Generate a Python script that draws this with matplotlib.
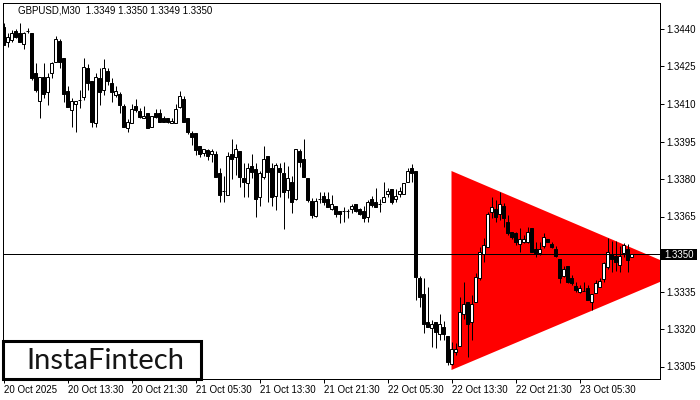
import matplotlib
matplotlib.use("Agg")
import matplotlib.pyplot as plt
from matplotlib.patches import Polygon, Rectangle

title = "GBPUSD,M30  1.3349 1.3350 1.3349 1.3350"

opens = [1.34409, 1.34349, 1.34356, 1.34392, 1.34383, 1.34339, 1.34392, 1.34383, 1.34223, 1.34112,
         1.34209, 1.34149, 1.34223, 1.34269, 1.34352, 1.34285, 1.34152, 1.34076, 1.34099, 1.34116,
         1.34129, 1.34245, 1.34192, 1.34023, 1.34205, 1.34156, 1.34232, 1.34185, 1.34136, 1.34140,
         1.34092, 1.34003, 1.34023, 1.34092, 1.34072, 1.34043, 1.34063, 1.34009, 1.34065, 1.34065,
         1.34043, 1.34043, 1.34023, 1.34023, 1.34089, 1.34119, 1.34043, 1.33985, 1.33985, 1.33932,
         1.33905, 1.33916, 1.33900, 1.33900, 1.33825, 1.33752, 1.33736, 1.33900, 1.33889, 1.33912,
         1.33805, 1.33783, 1.33852, 1.33839, 1.33729, 1.33809, 1.33892, 1.33843, 1.33732, 1.33843,
         1.33825, 1.33756, 1.33789, 1.33719, 1.33913, 1.33879, 1.33803, 1.33713, 1.33652, 1.33719,
         1.33732, 1.33719, 1.33679, 1.33692, 1.33673, 1.33672, 1.33673, 1.33679, 1.33700, 1.33679,
         1.33673, 1.33649, 1.33719, 1.33709, 1.33700, 1.33709, 1.33739, 1.33759, 1.33719, 1.33739,
         1.33739, 1.33789, 1.33843, 1.33832, 1.33403, 1.33339, 1.33229, 1.33203, 1.33229, 1.33180,
         1.33209, 1.33172, 1.33060, 1.33109, 1.33132, 1.33260, 1.33309, 1.33229, 1.33309, 1.33403,
         1.33500, 1.33529, 1.33669, 1.33679, 1.33660, 1.33692, 1.33629, 1.33589, 1.33583, 1.33540,
         1.33549, 1.33549, 1.33603, 1.33519, 1.33503, 1.33532, 1.33559, 1.33540, 1.33519, 1.33479,
         1.33412, 1.33452, 1.33403, 1.33372, 1.33349, 1.33353, 1.33363, 1.33309, 1.33345, 1.33369,
         1.33399, 1.33449, 1.33499, 1.33492, 1.33456, 1.33503, 1.33519, 1.33490]
highs = [1.34423, 1.34383, 1.34396, 1.34400, 1.34423, 1.34389, 1.34405, 1.34384, 1.34263, 1.34209,
         1.34263, 1.34223, 1.34269, 1.34373, 1.34360, 1.34285, 1.34172, 1.34123, 1.34112, 1.34156,
         1.34285, 1.34259, 1.34192, 1.34223, 1.34243, 1.34280, 1.34243, 1.34204, 1.34172, 1.34149,
         1.34100, 1.34039, 1.34100, 1.34119, 1.34083, 1.34092, 1.34063, 1.34052, 1.34079, 1.34079,
         1.34052, 1.34043, 1.34043, 1.34100, 1.34152, 1.34132, 1.34043, 1.33993, 1.33985, 1.33932,
         1.33919, 1.33919, 1.33919, 1.33912, 1.33843, 1.33812, 1.33909, 1.33959, 1.33940, 1.33912,
         1.33863, 1.33863, 1.33900, 1.33863, 1.33833, 1.33932, 1.33892, 1.33863, 1.33863, 1.33863,
         1.33869, 1.33852, 1.33812, 1.33919, 1.33919, 1.33959, 1.33803, 1.33723, 1.33723, 1.33749,
         1.33749, 1.33749, 1.33736, 1.33692, 1.33673, 1.33689, 1.33679, 1.33700, 1.33700, 1.33683,
         1.33692, 1.33716, 1.33732, 1.33763, 1.33719, 1.33788, 1.33763, 1.33759, 1.33759, 1.33769,
         1.33785, 1.33843, 1.33860, 1.33832, 1.33412, 1.33403, 1.33369, 1.33236, 1.33229, 1.33260,
         1.33233, 1.33172, 1.33149, 1.33143, 1.33329, 1.33389, 1.33309, 1.33336, 1.33423, 1.33529,
         1.33563, 1.33669, 1.33729, 1.33716, 1.33749, 1.33705, 1.33656, 1.33589, 1.33589, 1.33603,
         1.33576, 1.33609, 1.33603, 1.33549, 1.33549, 1.33585, 1.33559, 1.33549, 1.33532, 1.33479,
         1.33452, 1.33452, 1.33416, 1.33389, 1.33376, 1.33389, 1.33376, 1.33340, 1.33396, 1.33403,
         1.33469, 1.33563, 1.33553, 1.33553, 1.33532, 1.33543, 1.33540, 1.33500]
lows = [1.34336, 1.34329, 1.34349, 1.34363, 1.34349, 1.34320, 1.34383, 1.34196, 1.34149, 1.34044,
        1.34123, 1.34096, 1.34203, 1.34269, 1.34243, 1.34109, 1.34089, 1.34009, 1.33989, 1.34083,
        1.34116, 1.34156, 1.34009, 1.34009, 1.34096, 1.34136, 1.34176, 1.34109, 1.34129, 1.34063,
        1.34009, 1.33989, 1.34023, 1.34069, 1.34043, 1.34043, 1.34003, 1.34009, 1.34043, 1.34029,
        1.34029, 1.34023, 1.34023, 1.34023, 1.34083, 1.34029, 1.33980, 1.33936, 1.33896, 1.33889,
        1.33892, 1.33876, 1.33869, 1.33809, 1.33709, 1.33709, 1.33736, 1.33799, 1.33816, 1.33769,
        1.33729, 1.33729, 1.33803, 1.33649, 1.33692, 1.33799, 1.33709, 1.33692, 1.33676, 1.33729,
        1.33599, 1.33723, 1.33665, 1.33716, 1.33849, 1.33809, 1.33709, 1.33643, 1.33647, 1.33703,
        1.33696, 1.33689, 1.33676, 1.33649, 1.33623, 1.33629, 1.33643, 1.33663, 1.33668, 1.33656,
        1.33629, 1.33629, 1.33689, 1.33689, 1.33669, 1.33709, 1.33729, 1.33700, 1.33709, 1.33729,
        1.33739, 1.33789, 1.33789, 1.33316, 1.33289, 1.33183, 1.33209, 1.33129, 1.33123, 1.33156,
        1.33156, 1.33056, 1.33056, 1.33096, 1.33132, 1.33239, 1.33089, 1.33156, 1.33309, 1.33396,
        1.33469, 1.33529, 1.33643, 1.33629, 1.33636, 1.33609, 1.33576, 1.33559, 1.33536, 1.33509,
        1.33543, 1.33543, 1.33509, 1.33489, 1.33496, 1.33523, 1.33549, 1.33523, 1.33487, 1.33383,
        1.33409, 1.33383, 1.33376, 1.33349, 1.33345, 1.33353, 1.33316, 1.33276, 1.33345, 1.33369,
        1.33389, 1.33439, 1.33429, 1.33433, 1.33429, 1.33489, 1.33429, 1.33490]
closes = [1.34336, 1.34369, 1.34383, 1.34369, 1.34349, 1.34383, 1.34392, 1.34203, 1.34156, 1.34209,
          1.34139, 1.34209, 1.34263, 1.34360, 1.34269, 1.34139, 1.34089, 1.34112, 1.34112, 1.34116,
          1.34249, 1.34183, 1.34029, 1.34209, 1.34149, 1.34243, 1.34192, 1.34149, 1.34152, 1.34096,
          1.34009, 1.34029, 1.34079, 1.34076, 1.34049, 1.34052, 1.34003, 1.34052, 1.34049, 1.34029,
          1.34029, 1.34029, 1.34033, 1.34079, 1.34132, 1.34029, 1.33989, 1.33969, 1.33916, 1.33900,
          1.33919, 1.33892, 1.33913, 1.33809, 1.33736, 1.33752, 1.33892, 1.33879, 1.33920, 1.33809,
          1.33789, 1.33843, 1.33829, 1.33719, 1.33825, 1.33879, 1.33829, 1.33729, 1.33856, 1.33829,
          1.33749, 1.33803, 1.33709, 1.33919, 1.33869, 1.33809, 1.33716, 1.33656, 1.33713, 1.33719,
          1.33709, 1.33689, 1.33700, 1.33659, 1.33659, 1.33672, 1.33673, 1.33692, 1.33673, 1.33659,
          1.33643, 1.33709, 1.33696, 1.33689, 1.33700, 1.33729, 1.33752, 1.33709, 1.33732, 1.33752,
          1.33785, 1.33832, 1.33823, 1.33409, 1.33329, 1.33220, 1.33209, 1.33220, 1.33189, 1.33220,
          1.33180, 1.33069, 1.33119, 1.33119, 1.33269, 1.33300, 1.33220, 1.33300, 1.33409, 1.33509,
          1.33536, 1.33660, 1.33689, 1.33649, 1.33700, 1.33643, 1.33583, 1.33569, 1.33549, 1.33559,
          1.33559, 1.33589, 1.33509, 1.33503, 1.33519, 1.33569, 1.33549, 1.33529, 1.33492, 1.33403,
          1.33439, 1.33389, 1.33383, 1.33356, 1.33363, 1.33353, 1.33316, 1.33340, 1.33383, 1.33393,
          1.33463, 1.33509, 1.33479, 1.33469, 1.33492, 1.33536, 1.33476, 1.33500]

x_tick_bars = [0, 16, 32, 48, 64, 80, 96, 112, 128, 144]
x_tick_labels = ["20 Oct 2025", "20 Oct 13:30", "20 Oct 21:30", "21 Oct 05:30", "21 Oct 13:30",
                 "21 Oct 21:30", "22 Oct 05:30", "22 Oct 13:30", "22 Oct 21:30", "23 Oct 05:30"]
y_ticks = [1.3440, 1.3425, 1.3410, 1.3395, 1.3380, 1.3365, 1.3350, 1.3335, 1.3320, 1.3305]
current_price = 1.3350

# symmetrical triangle pattern (bar index, price)
tri_x = [112.0, 112.0, 170.6]
tri_y = [1.33832, 1.33036, 1.33432]

W, H = 700, 400
fig = plt.figure(figsize=(7, 4), dpi=100)
fig.patch.set_facecolor("white")
ax = fig.add_axes([3 / W, 21 / H, 657 / W, 376 / H])
ax.set_facecolor("white")
ax.set_xlim(-0.125, 164.125)
ax.set_ylim(1.33000, 1.34504)

px = 72 / 100.0  # one pixel in points

# triangle
ax.add_patch(Polygon(list(zip(tri_x, tri_y)), closed=True, facecolor="#ff0000",
                     edgecolor="none", zorder=1))

# candles
n = len(opens)
xs = list(range(n))
ax.vlines(xs, lows, highs, colors="black", linewidth=px, zorder=3)
for i in range(n):
    o, c = opens[i], closes[i]
    bottom = min(o, c)
    h = abs(c - o)
    fc = "white" if c >= o else "black"
    ax.add_patch(Rectangle((i - 0.27, bottom), 0.54, h, facecolor=fc,
                           edgecolor="black", linewidth=px, zorder=4))

# bid line
ax.axhline(current_price, color="black", linewidth=px, zorder=5)

# spines
for s in ax.spines.values():
    s.set_linewidth(px)
    s.set_color("black")

ax.yaxis.tick_right()
ax.set_yticks(y_ticks)
# the current-price box covers the 1.3350 tick, so its own label carries the value
ax.set_yticklabels(["" if abs(v - current_price) < 1e-9 else "%.4f" % v for v in y_ticks])
ax.set_xticks(x_tick_bars)
ax.set_xticklabels(x_tick_labels)
ax.tick_params(axis="both", direction="out", length=4 * px, width=px, colors="black",
               labelsize=7, pad=1.5)
for lab in ax.get_xticklabels():
    lab.set_horizontalalignment("left")
    lab.set_fontfamily("Liberation Sans")
for lab in ax.get_yticklabels():
    lab.set_fontfamily("Liberation Sans")

# title
ax.text(15 / 657, 1 - 7.5 / 376, title, transform=ax.transAxes, fontsize=7,
        family="Liberation Sans", va="center", ha="left", color="black", zorder=6)

# current price box
fig.patches.append(Rectangle((661 / W, (H - 260) / H), 36 / W, 11 / H, transform=fig.transFigure,
                             facecolor="black", edgecolor="none", zorder=10))
fig.text(664 / W, (H - 254.5) / H, "%.4f" % current_price, color="white", fontsize=7,
         family="Liberation Sans", va="center", ha="left", zorder=11)

# logo
ax.add_patch(Rectangle((0.0, 0.0), 198 / 657, 38 / 376, transform=ax.transAxes,
                       facecolor="white", edgecolor="black", linewidth=2.2, zorder=7,
                       clip_on=False))
ax.text(102 / 657, 10 / 376, "InstaFintech", transform=ax.transAxes, fontsize=21,
        family="Lato", va="baseline", ha="center", color="#151515", zorder=8)

fig.savefig("out.png", dpi=100)
